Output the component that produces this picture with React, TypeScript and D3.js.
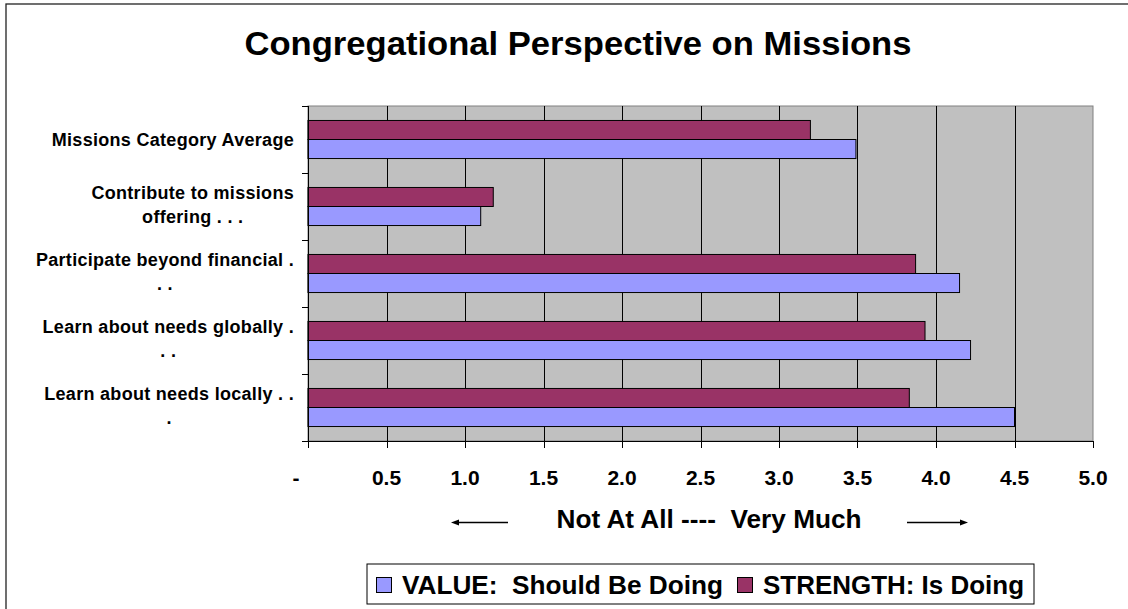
import React, { useEffect, useRef } from "react";
import * as d3 from "d3";

// Survey categories, listed bottom-to-top as they appear on the axis
const categories = [
  "Learn about needs locally . . .",
  "Learn about needs globally . . .",
  "Participate beyond financial . . .",
  "Contribute to missions offering . . .",
  "Missions Category Average",
];
// Wrapped label lines for each category
const categoryLines = [
  ["Learn about needs locally . .", "."],
  ["Learn about needs globally .", ". ."],
  ["Participate beyond financial .", ". ."],
  ["Contribute to missions", "offering . . ."],
  ["Missions Category Average"],
];
const valueScores = [4.5, 4.22, 4.15, 1.1, 3.49];
const strengthScores = [3.83, 3.93, 3.87, 1.18, 3.2];
const xTicks = [0, 0.5, 1, 1.5, 2, 2.5, 3, 3.5, 4, 4.5, 5];
const xTickLabels = ["-", "0.5", "1.0", "1.5", "2.0", "2.5", "3.0", "3.5", "4.0", "4.5", "5.0"];
const seriesNames = ["VALUE:  Should Be Doing", "STRENGTH: Is Doing"];

const W = 1128;
const H = 609;
const FONT = "'Liberation Sans', Arial, Helvetica, sans-serif";
const BLUE = "#9999FF";
const PLUM = "#993366";

export default function App() {
  const ref = useRef<SVGSVGElement>(null);

  useEffect(() => {
    const svg = d3.select(ref.current);
    svg.selectAll("*").remove();

    const plot = { left: 308, right: 1093, top: 106, bottom: 441 };
    const x = d3.scaleLinear().domain([0, 5]).range([plot.left, plot.right]);
    const y = d3.scaleBand<string>().domain(categories).range([plot.bottom, plot.top]).padding(0);
    const inner = d3
      .scaleBand<string>()
      .domain(["strength", "value"])
      .range([0, y.bandwidth()])
      .paddingInner(0)
      .paddingOuter(0.76);

    // outer frame
    svg
      .append("rect")
      .attr("x", 6)
      .attr("y", 4)
      .attr("width", W)
      .attr("height", H)
      .attr("fill", "#fff")
      .attr("stroke", "#222")
      .attr("stroke-width", 1.3);

    svg
      .append("text")
      .attr("x", 578)
      .attr("y", 55)
      .attr("text-anchor", "middle")
      .attr("font-family", FONT)
      .attr("font-weight", "bold")
      .attr("font-size", 34)
      .attr("textLength", 667)
      .attr("lengthAdjust", "spacingAndGlyphs")
      .text("Congregational Perspective on Missions");

    // plot background
    svg
      .append("rect")
      .attr("x", plot.left)
      .attr("y", plot.top)
      .attr("width", plot.right - plot.left)
      .attr("height", plot.bottom - plot.top)
      .attr("fill", "#C0C0C0")
      .attr("stroke", "#808080")
      .attr("stroke-width", 1);

    // vertical gridlines
    svg
      .append("g")
      .selectAll("line")
      .data(xTicks.filter((t) => t > 0 && t < 5))
      .join("line")
      .attr("x1", (d) => Math.round(x(d)) + 0.5)
      .attr("x2", (d) => Math.round(x(d)) + 0.5)
      .attr("y1", plot.top)
      .attr("y2", plot.bottom)
      .attr("stroke", "#000")
      .attr("stroke-width", 1);

    // bars
    const rows = categories.map((c, i) => ({ c, v: valueScores[i], s: strengthScores[i] }));
    const bars = svg.append("g");
    rows.forEach((r) => {
      const top = y(r.c)!;
      bars
        .append("rect")
        .attr("x", x(0))
        .attr("y", top + inner("strength")!)
        .attr("width", x(r.s) - x(0))
        .attr("height", inner.bandwidth())
        .attr("fill", PLUM)
        .attr("stroke", "#000")
        .attr("stroke-width", 1);
      bars
        .append("rect")
        .attr("x", x(0))
        .attr("y", top + inner("value")!)
        .attr("width", x(r.v) - x(0))
        .attr("height", inner.bandwidth())
        .attr("fill", BLUE)
        .attr("stroke", "#000")
        .attr("stroke-width", 1);
    });

    // axes
    const axes = svg.append("g").attr("stroke", "#000").attr("stroke-width", 1);
    axes
      .append("line")
      .attr("x1", plot.left + 0.5)
      .attr("x2", plot.left + 0.5)
      .attr("y1", plot.top)
      .attr("y2", plot.bottom);
    axes
      .append("line")
      .attr("x1", plot.left)
      .attr("x2", plot.right + 0.5)
      .attr("y1", plot.bottom + 0.5)
      .attr("y2", plot.bottom + 0.5);
    const bandEdges = categories.map((c) => y(c)!).concat([plot.bottom]);
    axes
      .selectAll(".ytick")
      .data(bandEdges)
      .join("line")
      .attr("x1", plot.left - 6)
      .attr("x2", plot.left)
      .attr("y1", (d) => Math.round(d) + 0.5)
      .attr("y2", (d) => Math.round(d) + 0.5);
    axes
      .selectAll(".xtick")
      .data(xTicks)
      .join("line")
      .attr("x1", (d) => Math.round(x(d)) + 0.5)
      .attr("x2", (d) => Math.round(x(d)) + 0.5)
      .attr("y1", plot.bottom)
      .attr("y2", plot.bottom + 7);

    // x tick labels
    svg
      .append("g")
      .selectAll("text")
      .data(xTicks)
      .join("text")
      .attr("x", (d, i) => (i === 0 ? x(d) - 12 : x(d)))
      .attr("y", 485)
      .attr("text-anchor", "middle")
      .attr("font-family", FONT)
      .attr("font-weight", "bold")
      .attr("font-size", 21)
      .text((d, i) => xTickLabels[i]);

    // category labels: lines centered within a right-aligned block
    const labelRight = 294;
    const lineH = 24;
    const lab = svg.append("g");
    rows.forEach((r, i) => {
      const lines = categoryLines[i];
      const center = y(r.c)! + y.bandwidth() / 2;
      const texts = lines.map((ln, k) =>
        lab
          .append("text")
          .attr("y", center + 6.5 - ((lines.length - 1) * lineH) / 2 - (lines.length - 1) * 2 + k * lineH)
          .attr("text-anchor", "middle")
          .attr("font-family", FONT)
          .attr("font-weight", "bold")
          .attr("font-size", 18)
          .attr("letter-spacing", 0.3)
          .text(ln)
      );
      const widths = texts.map((t) => (t.node() as SVGTextElement).getComputedTextLength());
      const maxW = Math.max(...widths);
      texts.forEach((t) => t.attr("x", labelRight - maxW / 2));
    });

    // axis title with arrows
    svg
      .append("text")
      .attr("x", 709)
      .attr("y", 528)
      .attr("text-anchor", "middle")
      .attr("font-family", FONT)
      .attr("font-weight", "bold")
      .attr("font-size", 25)
      .attr("textLength", 305)
      .attr("lengthAdjust", "spacingAndGlyphs")
      .style("white-space", "pre")
      .text("Not At All ----  Very Much");

    const arrowY = 522.5;
    const arrows = svg.append("g");
    arrows
      .append("line")
      .attr("x1", 456)
      .attr("x2", 508)
      .attr("y1", arrowY)
      .attr("y2", arrowY)
      .attr("stroke", "#000")
      .attr("stroke-width", 1.3);
    arrows
      .append("path")
      .attr("d", `M451,${arrowY} L459,${arrowY - 3} L459,${arrowY + 3} Z`)
      .attr("fill", "#000");
    arrows
      .append("line")
      .attr("x1", 907)
      .attr("x2", 962)
      .attr("y1", arrowY)
      .attr("y2", arrowY)
      .attr("stroke", "#000")
      .attr("stroke-width", 1.3);
    arrows
      .append("path")
      .attr("d", `M968,${arrowY} L960,${arrowY - 3} L960,${arrowY + 3} Z`)
      .attr("fill", "#000");

    // legend
    const lg = svg.append("g");
    lg.append("rect")
      .attr("x", 367)
      .attr("y", 564)
      .attr("width", 667)
      .attr("height", 40)
      .attr("fill", "#fff")
      .attr("stroke", "#000")
      .attr("stroke-width", 1);
    const legendItems = [
      { name: seriesNames[0], color: BLUE, sx: 376, tx: 402, tw: 321 },
      { name: seriesNames[1], color: PLUM, sx: 737, tx: 763, tw: 261 },
    ];
    legendItems.forEach((it) => {
      lg.append("rect")
        .attr("x", it.sx + 0.5)
        .attr("y", 577.5)
        .attr("width", 15)
        .attr("height", 15)
        .attr("fill", it.color)
        .attr("stroke", "#000")
        .attr("stroke-width", 1);
      lg.append("text")
        .attr("x", it.tx)
        .attr("y", 594)
        .attr("font-family", FONT)
        .attr("font-weight", "bold")
        .attr("font-size", 25)
        .attr("textLength", it.tw)
        .attr("lengthAdjust", "spacingAndGlyphs")
        .style("white-space", "pre")
        .text(it.name);
    });
  }, []);

  return (
    <svg
      ref={ref}
      width={W}
      height={H}
      style={{ position: "absolute", left: 0, top: 0, display: "block" }}
    />
  );
}
